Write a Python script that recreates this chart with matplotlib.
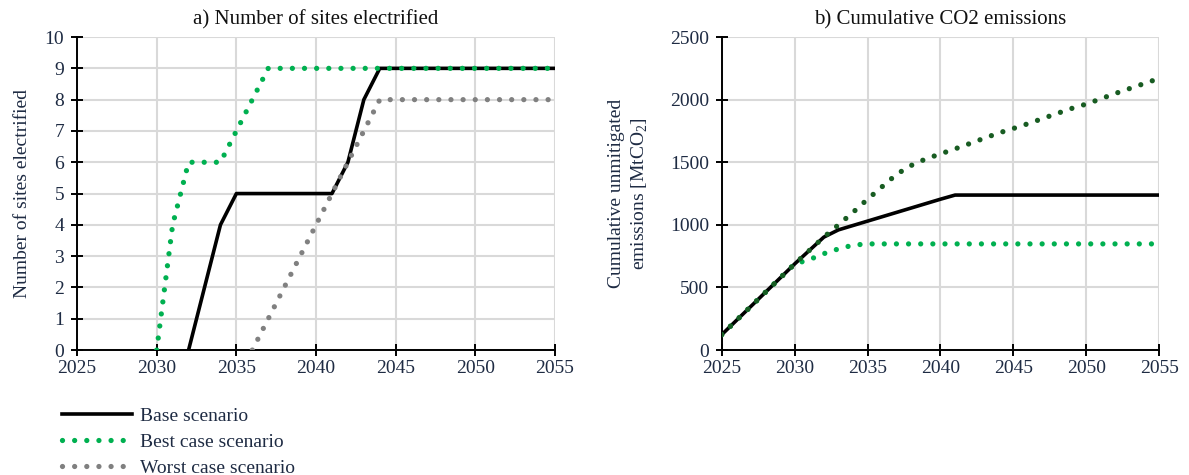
import matplotlib
matplotlib.use("Agg")
import matplotlib.pyplot as plt
from matplotlib.lines import Line2D

plt.rcParams['font.family'] = ['Liberation Serif', 'DejaVu Serif']
plt.rcParams['mathtext.fontset'] = 'custom'
plt.rcParams['mathtext.rm'] = 'Liberation Serif'

# ---- data -------------------------------------------------------------
# a) number of sites electrified
base_years = list(range(2032, 2056))
base_sites = [0, 2, 4, 5, 5, 5, 5, 5, 5, 5, 6, 8] + [9] * 12

best_years = list(range(2030, 2056))
best_sites = [0, 4, 6, 6, 6, 7, 8] + [9] * 19

worst_years = list(range(2036, 2056))
worst_sites = [0, 1, 2, 3, 4, 5, 6, 7] + [8] * 12

# b) cumulative unmitigated CO2 emissions [MtCO2]
co2_years = list(range(2025, 2056))
co2_base = [123, 236, 349, 462, 575, 688, 795, 902, 960, 995, 1030, 1065,
            1100, 1135, 1170, 1205, 1238] + [1238] * 14
co2_best = [123, 236, 349, 462, 575, 688, 722, 770, 808, 838, 848] + [848] * 20
co2_worst = [123, 236, 349, 462, 575, 688, 795, 902, 1000, 1100, 1205, 1305,
             1405, 1475, 1527, 1567, 1607, 1649, 1692, 1734, 1770, 1808, 1849,
             1890, 1930, 1965, 2007, 2050, 2090, 2130, 2170]

x_ticks = [2025, 2030, 2035, 2040, 2045, 2050, 2055]
labels = ["Base scenario", "Best case scenario", "Worst case scenario"]

# ---- styles -----------------------------------------------------------
TEXT = '#1e2b43'
GRID = '#d9d9d9'
GREEN = '#00b050'
GREY = '#808080'
DKGREEN = '#185c22'
FS = 14
TFS = 15
DOT_LW = 3.8
DOT = (0, (0.001, 2.3))

fig = plt.figure(figsize=(11.89, 4.75), dpi=100)
ax1 = fig.add_axes([0.0648, 0.263, 0.402, 0.659])
ax2 = fig.add_axes([0.607, 0.263, 0.368, 0.659])


def style(ax, ymax, ystep):
    ax.set_xlim(2025, 2055)
    ax.set_ylim(0, ymax)
    ax.set_xticks(x_ticks)
    ax.set_yticks(range(0, ymax + 1, ystep))
    ax.grid(True, color=GRID, lw=1.5)
    ax.set_axisbelow(True)
    for s in ('top', 'right'):
        ax.spines[s].set_visible(False)
    for s in ('left', 'bottom'):
        ax.spines[s].set_linewidth(1.4)
        ax.spines[s].set_color('black')
        ax.spines[s].set_zorder(1.5)
    ax.tick_params(direction='inout', length=8.5, width=1.4, labelsize=FS,
                   labelcolor=TEXT)
    ax.tick_params(axis='y', pad=5)
    ax.tick_params(axis='x', pad=3)


style(ax1, 10, 1)
style(ax2, 2500, 500)

dot_kw = dict(lw=DOT_LW, linestyle=DOT, dash_capstyle='round')

ax1.plot(base_years, base_sites, color='black', lw=2.6, zorder=3, label=labels[0])
ax1.plot(worst_years, worst_sites, color=GREY, zorder=4, label=labels[2], **dot_kw)
ax1.plot(best_years, best_sites, color=GREEN, zorder=5, label=labels[1], **dot_kw)

ax2.plot(co2_years, co2_base, color='black', lw=2.6, zorder=3)
ax2.plot(co2_years, co2_best, color=GREEN, zorder=4, **dot_kw)
ax2.plot(co2_years, co2_worst, color=DKGREEN, zorder=5, **dot_kw)

ax1.set_title("a) Number of sites electrified", fontsize=TFS, color='#111111', pad=9)
ax2.set_title("b) Cumulative CO2 emissions", fontsize=TFS, color='#111111', pad=9)
ax1.set_ylabel("Number of sites electrified", fontsize=FS, color=TEXT, labelpad=10)
ax2.set_ylabel("Cumulative unmitigated\nemissions [MtCO$_2$]", fontsize=FS,
               color=TEXT, labelpad=14, linespacing=1.35)

handles = [
    Line2D([], [], color='black', lw=2.6),
    Line2D([], [], color=GREEN, **dot_kw),
    Line2D([], [], color=GREY, **dot_kw),
]
leg = fig.legend(handles, labels, loc='upper left', bbox_to_anchor=(0.052, 0.142),
                 frameon=False, fontsize=FS, handlelength=3.6, handletextpad=0.4,
                 labelspacing=0.42, borderaxespad=0, borderpad=0)
for t in leg.get_texts():
    t.set_color(TEXT)

fig.savefig("out.png", dpi=100)
